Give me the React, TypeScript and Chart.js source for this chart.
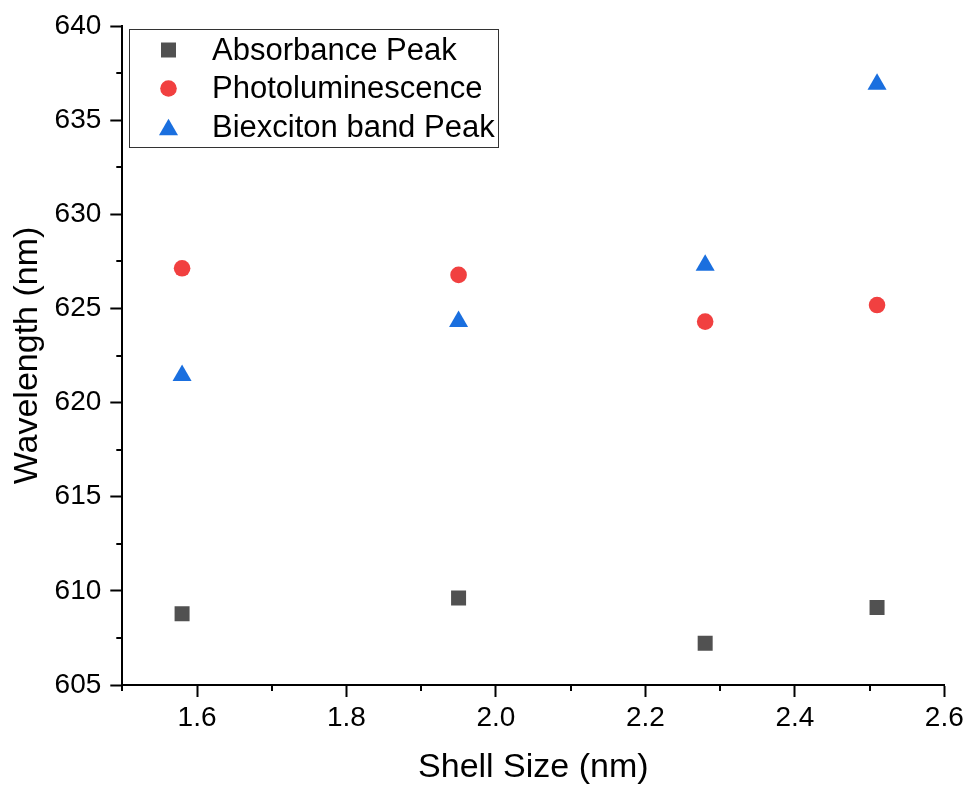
import React, { useEffect, useRef } from 'react';
import { Chart, registerables } from 'chart.js';

Chart.register(...registerables);

// ---- data ----
const shellSize = [1.58, 1.95, 2.28, 2.51];
const absorbancePeak = [608.78, 609.62, 607.22, 609.12];
const photoluminescence = [627.13, 626.78, 624.3, 625.18];
const biexcitonPeak = [621.44, 624.3, 627.29, 636.9];
const seriesNames = ['Absorbance Peak', 'Photoluminescence', 'Biexciton band Peak'];
const xAxisTitle = 'Shell Size (nm)';
const yAxisTitle = 'Wavelength (nm)';
const xRange = [1.5, 2.6];
const yRange = [605, 640];

const FONT = '"Liberation Sans", Arial, sans-serif';

const isMajorX = (v: number) => Math.round(v * 10) % 2 === 0;
const isMajorY = (v: number) => Math.abs(v / 5 - Math.round(v / 5)) < 1e-6;

function drawMarker(ctx: CanvasRenderingContext2D, style: string, cx: number, cy: number, r: number) {
  ctx.beginPath();
  if (style === 'rect') {
    const s = r * Math.SQRT2;
    ctx.rect(cx - s / 2, cy - s / 2, s, s);
  } else if (style === 'circle') {
    ctx.arc(cx, cy, r, 0, Math.PI * 2);
  } else {
    const y0 = cy + r / 4;
    ctx.moveTo(cx, y0 - r);
    ctx.lineTo(cx + (r * Math.sqrt(3)) / 2, y0 + r / 2);
    ctx.lineTo(cx - (r * Math.sqrt(3)) / 2, y0 + r / 2);
    ctx.closePath();
  }
  ctx.fill();
}

const minorTicks = {
  id: 'minorTicks',
  afterDraw(chart: any) {
    const ctx = chart.ctx;
    const xs = chart.scales.x;
    const ys = chart.scales.y;
    ctx.save();
    ctx.strokeStyle = '#000';
    ctx.lineWidth = 2;
    xs.ticks.forEach((t: any) => {
      if (isMajorX(t.value)) return;
      const px = Math.round(xs.getPixelForValue(t.value));
      ctx.beginPath();
      ctx.moveTo(px, xs.top);
      ctx.lineTo(px, xs.top + 6);
      ctx.stroke();
    });
    ys.ticks.forEach((t: any) => {
      if (isMajorY(t.value)) return;
      const py = Math.round(ys.getPixelForValue(t.value));
      ctx.beginPath();
      ctx.moveTo(ys.right, py);
      ctx.lineTo(ys.right - 6, py);
      ctx.stroke();
    });
    ctx.restore();
  },
};

const insideLegend = {
  id: 'insideLegend',
  afterDraw(chart: any) {
    const ctx = chart.ctx;
    const left = 129.5, top = 29.5, w = 369, h = 118;
    ctx.save();
    ctx.fillStyle = '#fff';
    ctx.fillRect(left, top, w, h);
    ctx.strokeStyle = '#333';
    ctx.lineWidth = 1;
    ctx.strokeRect(left, top, w, h);
    chart.data.datasets.forEach((ds: any, i: number) => {
      const cy = 50 + i * 38.5;
      ctx.fillStyle = ds.backgroundColor;
      drawMarker(ctx, ds.pointStyle, 168.5, cy, ds.pointRadius);
      ctx.fillStyle = '#000';
      ctx.font = '31px ' + FONT;
      ctx.textBaseline = 'middle';
      ctx.textAlign = 'left';
      ctx.fillText(ds.label, 212, cy + 1);
    });
    ctx.restore();
  },
};

export default function App() {
  const ref = useRef<HTMLCanvasElement | null>(null);

  useEffect(() => {
    if (!ref.current) return;
    Chart.defaults.font.family = FONT;
    const toPts = (ys: number[]) => shellSize.map((x, i) => ({ x, y: ys[i] }));
    const chart = new Chart(ref.current, {
      type: 'scatter',
      data: {
        datasets: [
          {
            label: seriesNames[0],
            data: toPts(absorbancePeak),
            pointStyle: 'rect',
            pointRadius: 10.6,
            backgroundColor: '#515151',
            borderWidth: 0,
          },
          {
            label: seriesNames[1],
            data: toPts(photoluminescence),
            pointStyle: 'circle',
            pointRadius: 8.3,
            backgroundColor: '#F14040',
            borderWidth: 0,
          },
          {
            label: seriesNames[2],
            data: toPts(biexcitonPeak),
            pointStyle: 'triangle',
            pointRadius: 11,
            backgroundColor: '#1A6FDF',
            borderWidth: 0,
          },
        ] as any,
      },
      options: {
        animation: false,
        responsive: false,
        devicePixelRatio: 1,
        layout: { padding: { left: 0, top: 26, right: 21.7, bottom: 0 } },
        plugins: { legend: { display: false }, tooltip: { enabled: false } },
        scales: {
          x: {
            type: 'linear',
            min: xRange[0],
            max: xRange[1],
            afterFit: (s: any) => {
              s.height = 101;
              s.paddingLeft = 0;
              s.paddingRight = 0;
            },
            border: { display: true, color: '#000', width: 2 },
            grid: {
              display: true,
              drawOnChartArea: false,
              drawTicks: true,
              tickLength: 12,
              tickWidth: 2,
              tickColor: (c: any) => (c.tick && isMajorX(c.tick.value) ? '#000' : 'rgba(0,0,0,0)'),
            },
            ticks: {
              stepSize: 0.1,
              autoSkip: false,
              maxRotation: 0,
              padding: 4,
              color: '#000',
              font: { size: 28, family: FONT },
              callback: (v: any) => (isMajorX(Number(v)) ? Number(v).toFixed(1) : ''),
            },
            title: {
              display: true,
              text: xAxisTitle,
              color: '#000',
              font: { size: 34, family: FONT, lineHeight: 1.1 },
              padding: { top: 0, bottom: 0 },
            },
          },
          y: {
            type: 'linear',
            min: yRange[0],
            max: yRange[1],
            afterFit: (s: any) => {
              s.width = 122.3;
              s.paddingTop = 0;
              s.paddingBottom = 0;
            },
            border: { display: true, color: '#000', width: 2 },
            grid: {
              display: true,
              drawOnChartArea: false,
              drawTicks: true,
              tickLength: 12,
              tickWidth: 2,
              tickColor: (c: any) => (c.tick && isMajorY(c.tick.value) ? '#000' : 'rgba(0,0,0,0)'),
            },
            ticks: {
              stepSize: 2.5,
              autoSkip: false,
              padding: 9,
              color: '#000',
              font: { size: 28, family: FONT },
              callback: (v: any) => (isMajorY(Number(v)) ? String(Math.round(Number(v))) : ''),
            },
            title: {
              display: true,
              text: yAxisTitle,
              color: '#000',
              font: { size: 34, family: FONT, lineHeight: 1.1 },
              padding: { top: 9, bottom: 0 },
            },
          },
        },
      } as any,
      plugins: [minorTicks, insideLegend],
    });
    return () => chart.destroy();
  }, []);

  return (
    <div style={{ position: 'absolute', left: 0, top: 0, width: 966, height: 786, background: '#fff' }}>
      <canvas ref={ref} width={966} height={786} style={{ display: 'block', width: 966, height: 786 }} />
    </div>
  );
}
